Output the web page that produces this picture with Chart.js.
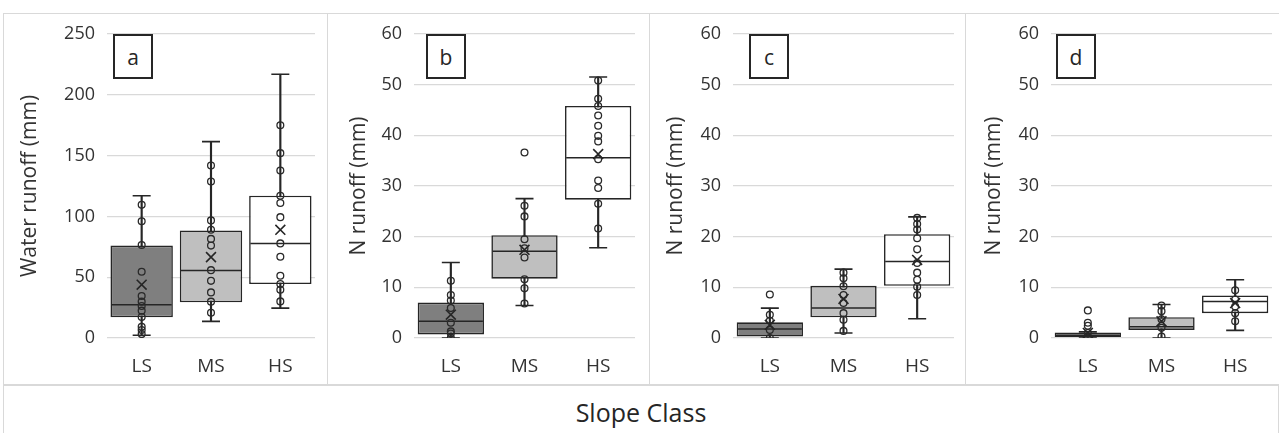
<!DOCTYPE html>
<html>
<head>
<meta charset="utf-8">
<script src="https://cdn.jsdelivr.net/npm/chart.js@4"></script>
<style>
  body { margin: 0; background: #fff; font-family: "Open Sans", sans-serif; }
  #wrap { position: relative; width: 1279px; height: 433px; overflow: hidden; }
  .panel { position: absolute; top: 13px; height: 372px; border: 1px solid #d9d9d9; box-sizing: border-box; }
  .cv { position: absolute; top: 14px; height: 371px; }
  .tag { position: absolute; top: 34px; width: 40px; height: 45px; border: 2px solid #262626; box-sizing: border-box;
         background: #fff; font-size: 21px; color: #262626; display: flex; align-items: center; justify-content: center; }
  #xtitle { position: absolute; left: 3px; top: 385px; width: 1276px; height: 48px; border: 1px solid #d9d9d9; border-bottom: none;
            box-sizing: border-box; text-align: center; font-size: 25px; line-height: 52px; color: #262626; }
</style>
</head>
<body>
<div id="wrap">
  <div class="panel" style="left:3px;width:325px"></div>
  <div class="panel" style="left:327px;width:323px"></div>
  <div class="panel" style="left:649px;width:317px"></div>
  <div class="panel" style="left:965px;width:316px"></div>
  <div class="cv" style="left:4px;width:322px"><canvas id="ca"></canvas></div>
  <div class="cv" style="left:329px;width:319px"><canvas id="cb"></canvas></div>
  <div class="cv" style="left:650px;width:314px"><canvas id="cc"></canvas></div>
  <div class="cv" style="left:967px;width:312px"><canvas id="cd"></canvas></div>
  <div class="tag" style="left:113px">a</div>
  <div class="tag" style="left:426px">b</div>
  <div class="tag" style="left:749px">c</div>
  <div class="tag" style="left:1056px">d</div>
  <div id="xtitle">Slope Class</div>
</div>
<script>
const categories = ['LS', 'MS', 'HS'];
const boxColors = ['#7f7f7f', '#bfbfbf', '#ffffff'];

// panel a: water runoff (mm)
const aMin = [2.2, 13.7, 24.6];
const aQ1 = [17, 29.3, 44.4];
const aMed = [27.4, 55.6, 77.8];
const aQ3 = [76, 88.4, 117];
const aMax = [117, 161.5, 216.9];
const aMean = [43.8, 66.5, 89];
const aPtsLS = [109.5, 96, 76.5, 54.5, 34.5, 29.9, 26.3, 22.5, 17.3, 9.3, 6.6, 3.3];
const aPtsMS = [141.8, 128.7, 96.7, 89, 81.5, 76, 55.8, 47, 37.5, 29.9, 20.8];
const aPtsHS = [175, 152, 137.7, 117, 111, 99.4, 77.8, 66.8, 51.2, 44.4, 39.7, 30.1];

// panel b: N runoff (mm)
const bMin = [0, 6.4, 17.8];
const bQ1 = [0.7, 11.7, 27.3];
const bMed = [3.3, 17.1, 35.6];
const bQ3 = [7.0, 20.3, 45.8];
const bMax = [14.9, 27.5, 51.5];
const bMean = [4.6, 17.4, 36.3];
const bPtsLS = [11.3, 8.5, 7.4, 5.9, 3.0, 1.3, 0.9, 0];
const bPtsMS = [36.6, 26.1, 24.0, 19.5, 17.7, 15.9, 11.6, 9.8, 6.8];
const bPtsHS = [50.8, 47.2, 45.8, 43.9, 41.9, 39.9, 38.8, 35.3, 31.1, 29.6, 26.5, 21.6];

// panel c: N runoff (mm)
const cMin = [0, 1.0, 3.8];
const cQ1 = [0.3, 4.1, 10.3];
const cMed = [1.8, 5.9, 15.1];
const cQ3 = [3.1, 10.3, 20.5];
const cMax = [5.9, 13.6, 23.9];
const cMean = [2.6, 7.7, 15.4];
const cPtsLS = [8.6, 4.6, 3.4, 1.6, 0];
const cPtsMS = [12.9, 11.8, 10.2, 8.5, 6.9, 4.9, 3.6, 1.4];
const cPtsHS = [23.7, 22.5, 21.4, 19.7, 17.5, 14.8, 12.9, 11.5, 10.1, 8.5];

// panel d: N runoff (mm)
const dMin = [0, 0, 1.5];
const dQ1 = [0.2, 1.6, 4.9];
const dMed = [0.5, 2.2, 7.2];
const dQ3 = [1.1, 4.1, 8.4];
const dMax = [1.2, 6.6, 11.5];
const dMean = [1.0, 3.3, 6.9];
const dPtsLS = [5.45, 3.0, 2.4, 1.0, 0];
const dPtsMS = [6.4, 5.3, 3.7, 2.0, 0.3];
const dPtsHS = [9.4, 7.6, 6.2, 4.9, 3.3];

const ink = '#262626';

function toXY(vals) {
    return vals.map((v, i) => ({ x: categories[i], y: v }));
}

function makePanel(id, s, yMax, step, title, axisW, rightPad, medR, titlePad) {
    const pts = []
        .concat(s.ls.map(v => ({ x: 'LS', y: v })))
        .concat(s.ms.map(v => ({ x: 'MS', y: v })))
        .concat(s.hs.map(v => ({ x: 'HS', y: v })));
    const caps = toXY(s.min).concat(toXY(s.max));

    new Chart(document.getElementById(id), {
        type: 'bar',
        data: {
            labels: categories,
            datasets: [
                {   // whiskers
                    data: categories.map((c, i) => [s.min[i], s.max[i]]),
                    backgroundColor: ink,
                    barThickness: 1.5,
                    grouped: false,
                    order: 6
                },
                {   // boxes
                    data: categories.map((c, i) => [s.q1[i], s.q3[i]]),
                    backgroundColor: boxColors,
                    borderColor: ink,
                    borderWidth: 1.6,
                    borderSkipped: false,
                    barPercentage: 0.9,
                    categoryPercentage: 1,
                    grouped: false,
                    order: 5
                },
                {   // medians
                    type: 'line', showLine: false,
                    data: toXY(s.med),
                    pointStyle: 'line', pointRadius: medR,
                    borderColor: ink, borderWidth: 1.5,
                    order: 4
                },
                {   // whisker caps
                    type: 'line', showLine: false,
                    data: caps,
                    pointStyle: 'line', pointRadius: 9,
                    borderColor: ink, borderWidth: 1.6,
                    order: 3
                },
                {   // data points
                    type: 'line', showLine: false,
                    data: pts,
                    pointStyle: 'circle', pointRadius: 3.4,
                    pointBackgroundColor: 'rgba(0,0,0,0)',
                    pointBorderColor: '#2a2a2a', pointBorderWidth: 1.3,
                    order: 2
                },
                {   // means
                    type: 'line', showLine: false,
                    data: toXY(s.mean),
                    pointStyle: 'crossRot', pointRadius: 7,
                    borderColor: ink, pointBorderWidth: 1.6,
                    order: 1
                }
            ]
        },
        options: {
            responsive: true,
            maintainAspectRatio: false,
            animation: false,
            layout: { autoPadding: false, padding: { left: 0, top: 20, right: rightPad, bottom: 0 } },
            plugins: { legend: { display: false }, tooltip: { enabled: false } },
            scales: {
                x: {
                    grid: { display: false, drawTicks: false },
                    border: { display: false },
                    ticks: { color: '#333', font: { family: 'Open Sans', size: 19 }, padding: 17 },
                    afterFit: sc => {
                        sc.height = 47;
                        sc.paddingLeft = 0; sc.paddingRight = 0; sc.paddingTop = 0; sc.paddingBottom = 0;
                    }
                },
                y: {
                    min: 0, max: yMax,
                    grid: { color: '#d9d9d9', lineWidth: 1.3, drawTicks: false },
                    border: { display: false },
                    ticks: { stepSize: step, color: '#333', font: { family: 'Open Sans', size: 18 }, padding: 12 },
                    title: { display: true, text: title, color: '#333',
                             font: { family: 'Open Sans', size: 21 }, padding: { top: titlePad, bottom: 0 } },
                    afterFit: sc => {
                        sc.width = axisW;
                        sc.paddingTop = 0; sc.paddingBottom = 0; sc.paddingLeft = 0; sc.paddingRight = 0;
                    }
                }
            }
        }
    });
}

makePanel('ca', { min: aMin, q1: aQ1, med: aMed, q3: aQ3, max: aMax, mean: aMean, ls: aPtsLS, ms: aPtsMS, hs: aPtsHS },
    250, 50, 'Water runoff (mm)', 103, 11, 30, 13);
makePanel('cb', { min: bMin, q1: bQ1, med: bMed, q3: bQ3, max: bMax, mean: bMean, ls: bPtsLS, ms: bPtsMS, hs: bPtsHS },
    60, 10, 'N runoff (mm)', 85, 13, 32, 17);
makePanel('cc', { min: cMin, q1: cQ1, med: cMed, q3: cQ3, max: cMax, mean: cMean, ls: cPtsLS, ms: cPtsMS, hs: cPtsHS },
    60, 10, 'N runoff (mm)', 83, 10, 32, 13);
makePanel('cd', { min: dMin, q1: dQ1, med: dMed, q3: dQ3, max: dMax, mean: dMean, ls: dPtsLS, ms: dPtsMS, hs: dPtsHS },
    60, 10, 'N runoff (mm)', 84, 7, 32, 14);
</script>
</body>
</html>
